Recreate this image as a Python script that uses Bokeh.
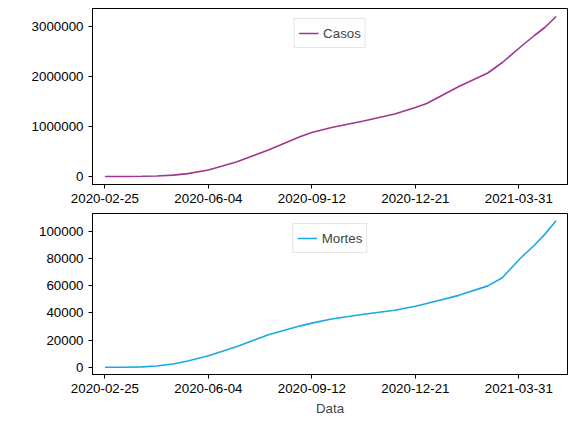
from bokeh.plotting import figure
from bokeh.layouts import column
from bokeh.embed import file_html
from bokeh.resources import INLINE
from bokeh.models import FixedTicker, NumeralTickFormatter
import pandas as pd

datas = ["2020-02-25", "2020-03-15", "2020-04-01", "2020-04-15", "2020-05-01", "2020-05-15",
         "2020-06-04", "2020-07-01", "2020-08-01", "2020-09-01", "2020-09-12", "2020-10-01",
         "2020-11-01", "2020-12-01", "2020-12-21", "2021-01-01", "2021-02-01", "2021-03-01",
         "2021-03-15", "2021-04-01", "2021-04-15", "2021-04-25", "2021-05-06"]
casos = [1, 150, 4000, 11000, 28000, 58000, 130000, 290000, 530000, 800000, 880000, 980000,
         1110000, 1250000, 1380000, 1460000, 1800000, 2070000, 2280000, 2580000, 2820000, 2980000, 3200000]
mortes = [0, 5, 250, 900, 2300, 4500, 8500, 15000, 24000, 30500, 32500, 35500,
          39000, 42000, 45000, 47000, 53000, 60000, 66000, 80000, 90000, 98000, 108000]
ticks = ["2020-02-25", "2020-06-04", "2020-09-12", "2020-12-21", "2021-03-31"]

inicio = pd.Timestamp(datas[0])
dias = [(pd.Timestamp(d) - inicio).days for d in datas]
tick_dias = [(pd.Timestamp(t) - inicio).days for t in ticks]


def painel(y, cor, nome, yticks, altura, xlabel=None):
    p = figure(width=571, height=altura, output_backend="svg", toolbar_location=None,
               x_range=(-12, 447), min_border_left=92, min_border_right=4, min_border_top=8)
    p.line(dias, y, color=cor, line_width=1.6, legend_label=nome)
    p.xgrid.grid_line_color = None
    p.ygrid.grid_line_color = None
    p.outline_line_color = "black"
    p.xaxis.ticker = FixedTicker(ticks=tick_dias)
    p.xaxis.major_label_overrides = {d: t for d, t in zip(tick_dias, ticks)}
    p.yaxis.ticker = FixedTicker(ticks=yticks)
    p.yaxis.formatter = NumeralTickFormatter(format="0")
    p.xaxis.minor_tick_line_color = None
    p.yaxis.minor_tick_line_color = None
    for ax in (p.xaxis, p.yaxis):
        ax.major_label_text_font_size = "10pt"
        ax.major_label_text_color = "black"
        ax.major_tick_out = 4
        ax.major_tick_in = 0
    p.legend.location = "top_center"
    p.legend.label_text_font_size = "10pt"
    p.legend.border_line_color = "#cccccc"
    p.legend.padding = 4
    p.legend.spacing = 0
    if xlabel:
        p.xaxis.axis_label = xlabel
        p.xaxis.axis_label_text_font_style = "normal"
        p.xaxis.axis_label_text_font_size = "10pt"
    return p


p1 = painel(casos, "#a0368f", "Casos", [0, 1000000, 2000000, 3000000], 205)
p1.y_range.start = -160000
p1.y_range.end = 3360000
p2 = painel(mortes, "#1ba9e1", "Mortes", [0, 20000, 40000, 60000, 80000, 100000], 213, "Data")
p2.y_range.start = -5400
p2.y_range.end = 113400

p = column(p1, p2)
open("out.html", "w").write(file_html(p, INLINE))
